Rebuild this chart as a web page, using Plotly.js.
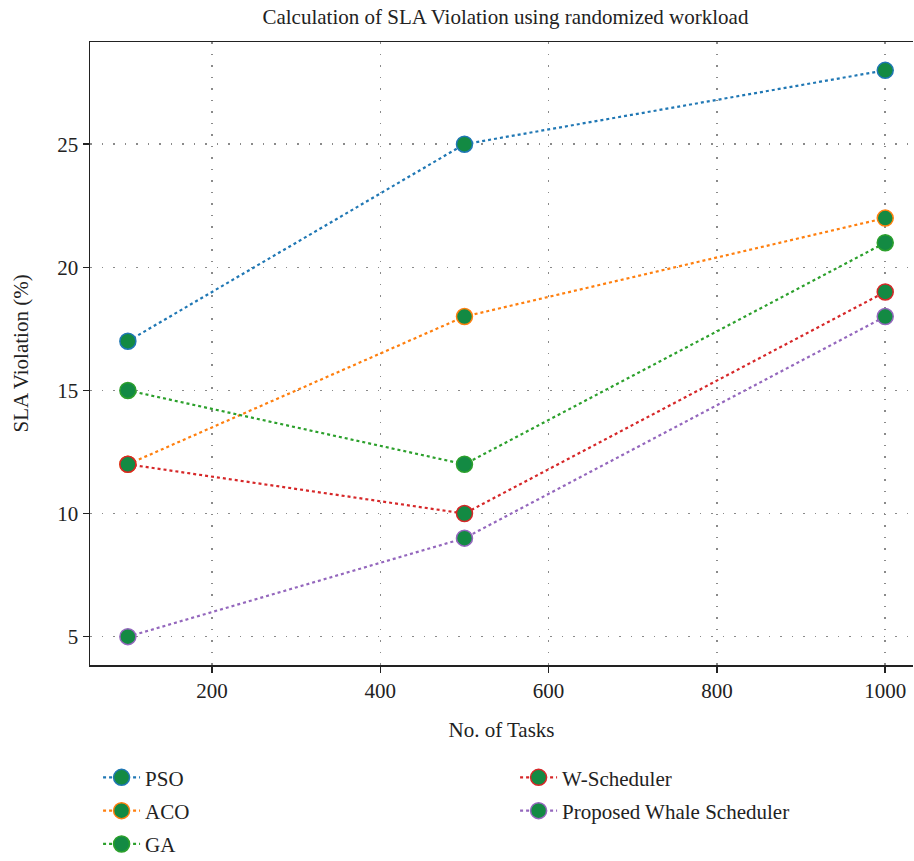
<!DOCTYPE html>
<html>
<head>
<meta charset="utf-8">
<script src="https://cdn.plot.ly/plotly-3.0.1.min.js"></script>
<style>html,body{margin:0;padding:0;background:#fff;overflow:hidden}</style>
</head>
<body>
<div id="chart" style="width:914px;height:861px"></div>
<script>
const tasks = [100, 500, 1000];
const pso = [17, 25, 28];
const aco = [12, 18, 22];
const ga = [15, 12, 21];
const wsched = [12, 10, 19];
const whale = [5, 9, 18];
const seriesNames = ["PSO", "ACO", "GA", "W-Scheduler", "Proposed Whale Scheduler"];
const seriesValues = [pso, aco, ga, wsched, whale];
const lineColors = ["#1f77b4", "#ff7f0e", "#2ca02c", "#d62728", "#9467bd"];
const markerFill = "#138a43";
const fontFam = "Liberation Serif, DejaVu Serif, serif";

const traces = seriesValues.map((vals, i) => ({
  x: tasks, y: vals, name: seriesNames[i], type: "scatter", mode: "lines+markers",
  line: {color: lineColors[i], width: 2.2, dash: "dot"},
  marker: {size: 16, color: markerFill, line: {color: lineColors[i], width: 1.5}},
  legend: i < 3 ? "legend" : "legend2",
  legendgroup: "g" + i
}));

const legendBase = {
  orientation: "v", xref: "paper", yref: "paper", yanchor: "top", xanchor: "left",
  bgcolor: "rgba(0,0,0,0)", font: {family: fontFam, size: 21, color: "#222"},
  tracegroupgap: 3, itemwidth: 37
};

const layout = {
  width: 914, height: 861,
  margin: {l: 90, r: 1, t: 42, b: 196, autoexpand: false},
  paper_bgcolor: "#fff", plot_bgcolor: "#fff",
  font: {family: fontFam, color: "#222", size: 21},
  title: {text: "Calculation of SLA Violation using randomized workload", font: {size: 21, family: fontFam, color: "#222"}, x: 0.553, xanchor: "center", y: 0.981, yanchor: "middle", yref: "container"},
  xaxis: {
    range: [55, 1033], tickvals: [200, 400, 600, 800, 1000],
    showline: true, mirror: true, linecolor: "#222", linewidth: 1.5,
    ticks: "outside", ticklen: 6, tickcolor: "#222", tickwidth: 1.5,
    showgrid: true, gridcolor: "#8a8a8a", griddash: "1.5px,10px", gridwidth: 1.5,
    zeroline: false, tickfont: {size: 21},
    title: {text: "No. of Tasks", font: {size: 21}, standoff: 20}
  },
  yaxis: {
    range: [3.85, 29.15], tickvals: [5, 10, 15, 20, 25],
    showline: true, mirror: false, linecolor: "#222", linewidth: 1.5,
    ticks: "outside", ticklen: 6, tickcolor: "#222", tickwidth: 1.5,
    showgrid: true, gridcolor: "#8a8a8a", griddash: "1.5px,10px", gridwidth: 1.5,
    zeroline: false, tickfont: {size: 21}
  },
  annotations: [{
    text: "SLA Violation (%)", xref: "paper", yref: "paper", x: -0.085, y: 0.5,
    xanchor: "center", yanchor: "middle", textangle: -90, showarrow: false,
    font: {family: fontFam, size: 21, color: "#222"}
  }],
  legend: Object.assign({}, legendBase, {x: 0.0098, y: -0.148}),
  legend2: Object.assign({}, legendBase, {x: 0.5165, y: -0.148}),
  showlegend: true
};

Plotly.newPlot("chart", traces, layout, {displayModeBar: false, staticPlot: true});
</script>
</body>
</html>
